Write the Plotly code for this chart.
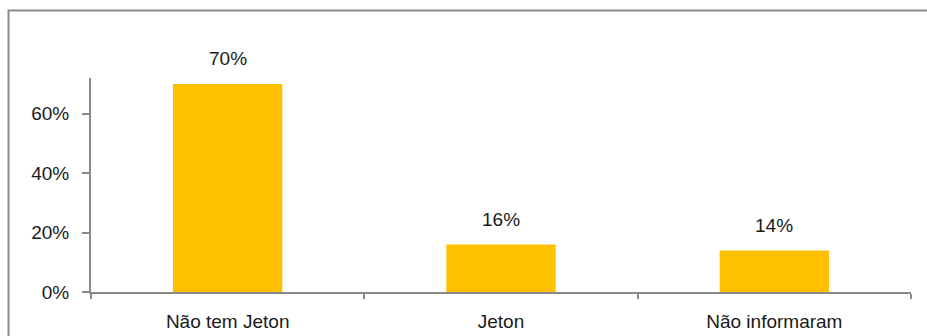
import plotly.graph_objects as go

categories = ["Não tem Jeton", "Jeton", "Não informaram"]
values = [0.70, 0.16, 0.14]
value_labels = ["70%", "16%", "14%"]
y_tick_values = [0, 0.2, 0.4, 0.6]
y_tick_labels = ["0%", "20%", "40%", "60%"]

W, H = 927, 336
ml, mr, mt, mb = 91, 16, 78, 44
pw, ph = W - ml - mr, H - mt - mb

axis_color = "#8a8a8a"
font = dict(family="Liberation Sans, Arial, sans-serif", size=19, color="#1a1a1a")

fig = go.Figure(go.Bar(
    x=categories, y=values,
    marker=dict(color="#FFC000", line=dict(width=0)),
    hoverinfo="skip",
))

for c, v, t in zip(categories, values, value_labels):
    fig.add_annotation(x=c, y=v, text=t, showarrow=False, yshift=25,
                       yanchor="middle", font=font)

# outer chart frame (extends past the right and bottom page edges)
def px_to_paper_x(p):
    return (p - ml) / pw

def px_to_paper_y(p):
    return (H - mb - p) / ph

fig.add_shape(type="rect", xref="paper", yref="paper",
              x0=px_to_paper_x(8.5), x1=px_to_paper_x(940),
              y0=px_to_paper_y(10.5), y1=px_to_paper_y(350),
              line=dict(color="#8c8c8c", width=2), layer="below")

fig.update_layout(
    width=W, height=H,
    margin=dict(l=ml, r=mr, t=mt, b=mb, autoexpand=False),
    paper_bgcolor="white", plot_bgcolor="white",
    bargap=0.6, showlegend=False, font=font,
)
fig.update_xaxes(
    showline=True, linecolor=axis_color, linewidth=2, automargin=False,
    ticks="outside", tickson="boundaries", ticklen=5, tickcolor=axis_color,
    tickwidth=2, showgrid=False, tickfont=font, ticklabelstandoff=11,
)
fig.update_yaxes(
    range=[0, 0.72], showline=True, linecolor=axis_color, linewidth=2,
    automargin=False,
    ticks="outside", ticklen=7, tickcolor=axis_color, tickwidth=2,
    tickvals=y_tick_values, ticktext=y_tick_labels,
    showgrid=False, zeroline=False, tickfont=font, ticklabelstandoff=9,
)

fig.write_html("out.html")
